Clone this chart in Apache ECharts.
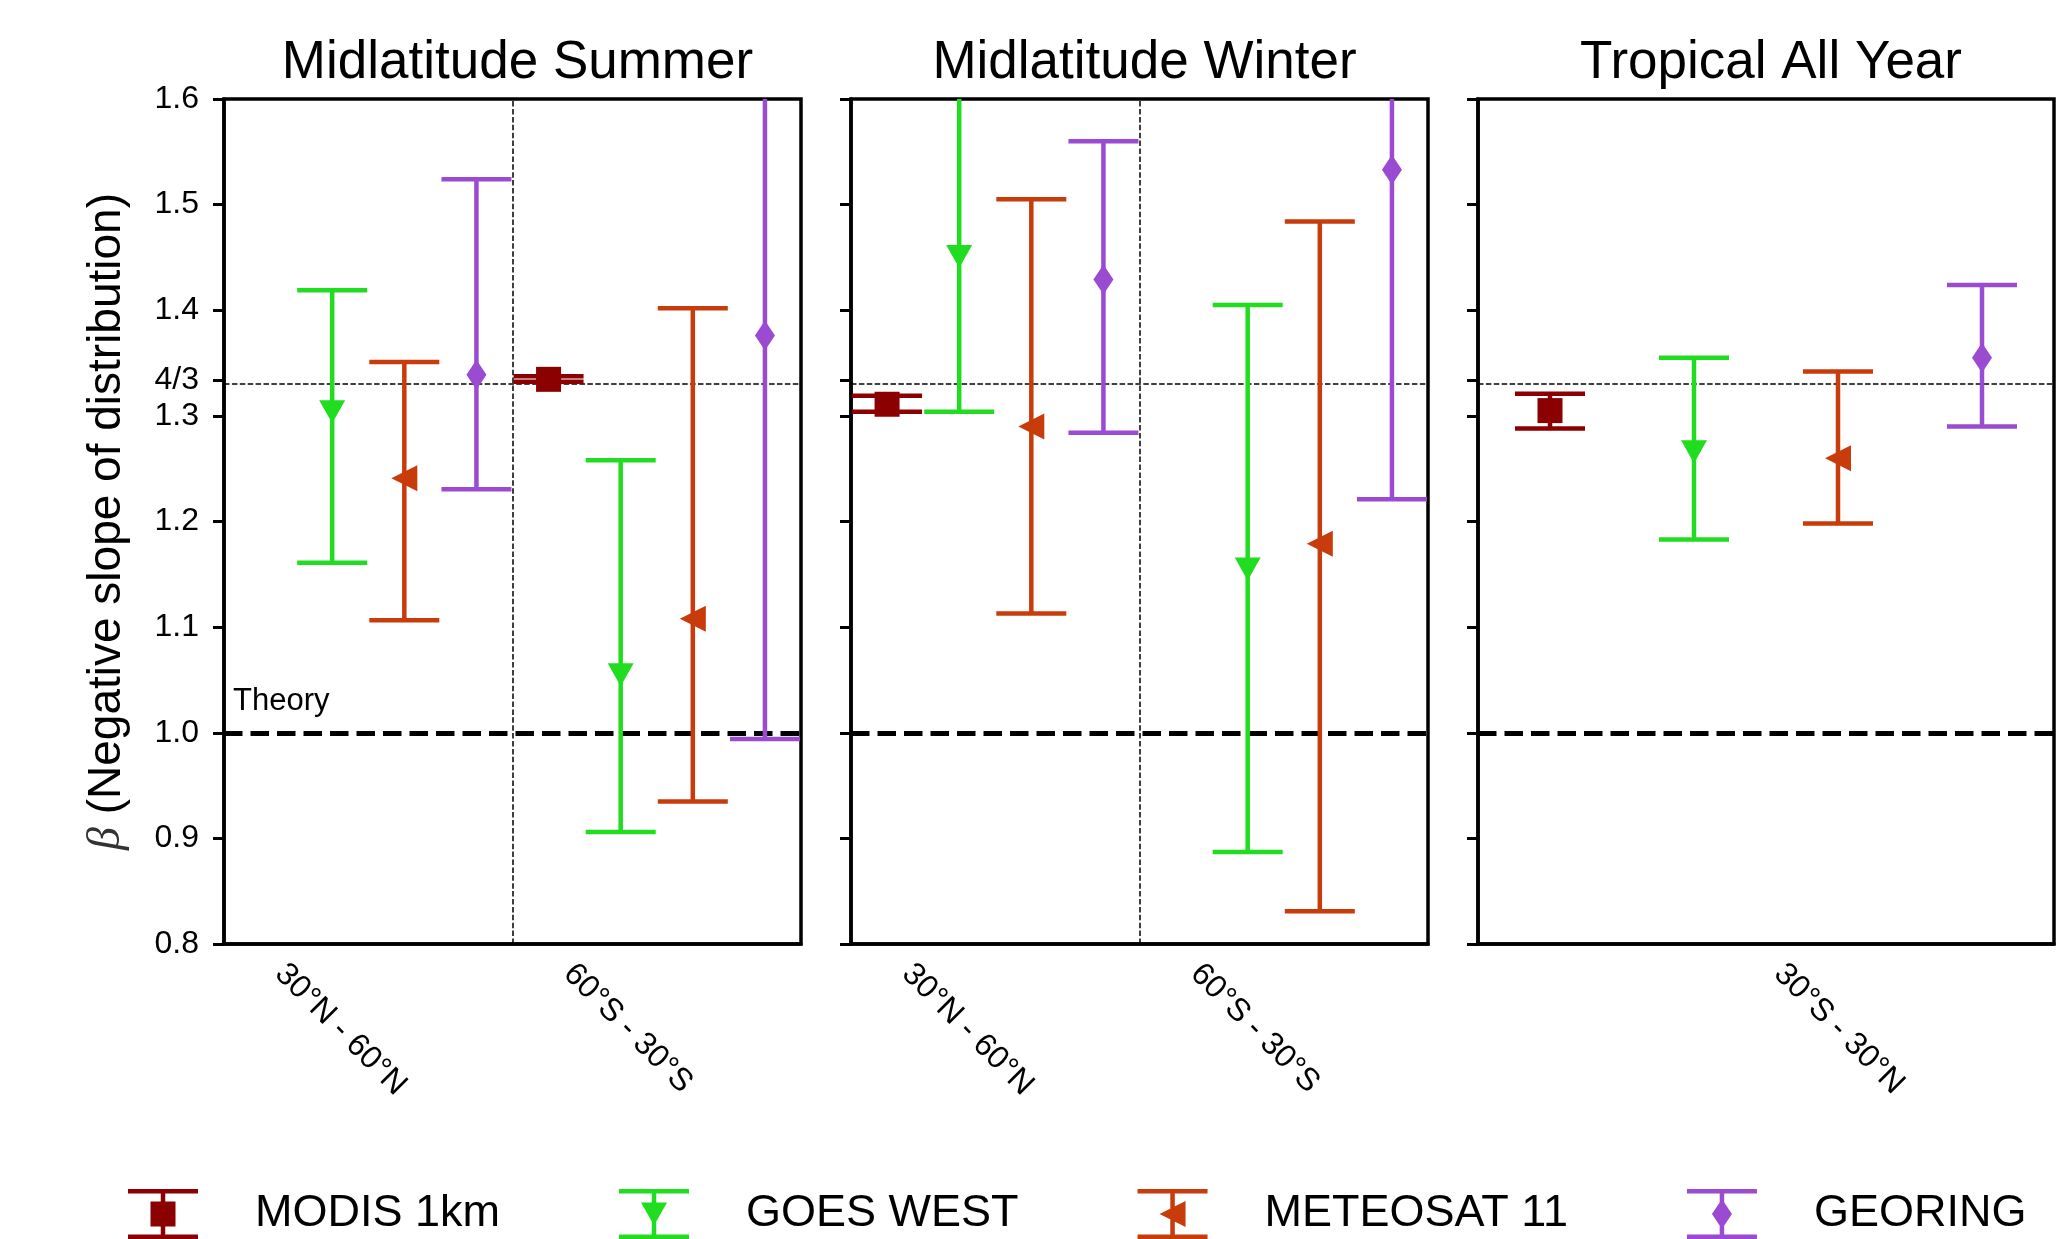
<!DOCTYPE html>
<html><head><meta charset="utf-8">
<script src="https://cdn.jsdelivr.net/npm/echarts@6/dist/echarts.min.js"></script>
<style>html,body{margin:0;padding:0;background:#fff}#c{width:2065px;height:1239px}</style>
</head><body><div id="c"></div>
<script>
// ---------------- DATA ----------------
const panelTitles = ['Midlatitude Summer', 'Midlatitude Winter', 'Tropical All Year'];
const regionLabels = [['30°N - 60°N', '60°S - 30°S'], ['30°N - 60°N', '60°S - 30°S'], ['30°S - 30°N']];
const sources = ['MODIS 1km', 'GOES WEST', 'METEOSAT 11', 'GEORING'];
// groups: [Summer 30N-60N, Summer 60S-30S, Winter 30N-60N, Winter 60S-30S, Tropical 30S-30N]
const modisMean = [null, 1.3346, 1.311, null, 1.305];
const modisLo   = [null, 1.3322, 1.304, null, 1.288];
const modisHi   = [null, 1.3376, 1.319, null, 1.321];
const goesMean  = [1.304, 1.055, 1.451, 1.155, 1.266];
const goesLo    = [1.161, 0.906, 1.304, 0.887, 1.183];
const goesHi    = [1.419, 1.258, 1.650, 1.405, 1.355];
const meteoMean = [1.241, 1.108, 1.290, 1.179, 1.260];
const meteoLo   = [1.1065, 0.935, 1.113, 0.831, 1.198];
const meteoHi   = [1.351, 1.402, 1.505, 1.484, 1.342];
const georMean  = [1.339, 1.376, 1.429, 1.533, 1.355];
const georLo    = [1.2305, 0.994, 1.284, 1.221, 1.290];
const georHi    = [1.524, 1.750, 1.560, 1.850, 1.424];
const yTicks = [0.8, 0.9, 1.0, 1.1, 1.2, 1.3, 4 / 3, 1.4, 1.5, 1.6];
const refKolmogorov = 4 / 3;
const refTheory = 1.0;
const theoryLabel = 'Theory';
const yAxisTitle = '{b|β} (Negative slope of distribution)';

// ---------------- STYLE / LAYOUT ----------------
const FONT = 'Liberation Sans, Arial, sans-serif';
const colors = ['#8B0000', '#20DD20', '#C83C0C', '#9B4BD2'];
const shapes = ['square', 'tridown', 'trileft', 'diamond'];
const panelGroups = [[0, 1], [2, 3], [4]];
const gridLeft = [224, 851, 1478];
const gridWidth = [577, 577, 576];
const gridTop = 99, gridHeight = 845;
const labelPos = [[0.776, 4.776], [0.776, 4.776], [2.09]];
const LW = 4.5, CAP = 35;

const sourceData = [
  [modisMean, modisLo, modisHi],
  [goesMean, goesLo, goesHi],
  [meteoMean, meteoLo, meteoHi],
  [georMean, georLo, georHi]
];

function makeRender(shape, color) {
  return function (params, api) {
    const x = api.value(0), m = api.value(1), lo = api.value(2), hi = api.value(3);
    const cs = params.coordSys;
    const top = cs.y, bot = cs.y + cs.height;
    const pm = api.coord([x, m]);
    const yl = api.coord([x, lo])[1], yh = api.coord([x, hi])[1];
    const cx = pm[0], cy = pm[1];
    const clamp = v => Math.max(top, Math.min(bot, v));
    const ls = { stroke: color, lineWidth: LW, fill: null, lineCap: 'butt' };
    const ch = [{ type: 'line', shape: { x1: cx, y1: clamp(yl), x2: cx, y2: clamp(yh) }, style: ls }];
    [yl, yh].forEach(y => {
      if (y >= top - 0.5 && y <= bot + 0.5) ch.push({ type: 'line', shape: { x1: cx - CAP, y1: y, x2: cx + CAP, y2: y }, style: ls });
    });
    const fs = { fill: color, stroke: null };
    if (shape === 'square') ch.push({ type: 'rect', shape: { x: cx - 12.5, y: cy - 12.5, width: 25, height: 25 }, style: fs });
    else if (shape === 'tridown') ch.push({ type: 'polygon', shape: { points: [[cx - 13, cy - 11.5], [cx + 13, cy - 11.5], [cx, cy + 11.5]] }, style: fs });
    else if (shape === 'trileft') ch.push({ type: 'polygon', shape: { points: [[cx - 13, cy], [cx + 13, cy - 13], [cx + 13, cy + 13]] }, style: fs });
    else ch.push({ type: 'polygon', shape: { points: [[cx, cy - 15], [cx + 10, cy], [cx, cy + 15], [cx - 10, cy]] }, style: fs });
    return { type: 'group', children: ch };
  };
}

const capsPath = 'M0 0 H70 V4.5 H0 Z M0 45.5 H70 V50 H0 Z M32.75 0 H37.25 V50 H32.75 Z ';
const icons = [
  'path://' + capsPath + 'M22.5 12.5 H47.5 V37.5 H22.5 Z',
  'path://' + capsPath + 'M22 13.5 H48 L35 36.5 Z',
  'path://' + capsPath + 'M22 25 L48 12 V38 Z',
  'path://' + capsPath + 'M35 10 L45 25 L35 40 L25 25 Z'
];

const grids = [], xAxes = [], yAxes = [], titles = [], series = [];
for (let i = 0; i < 3; i++) {
  grids.push({ left: gridLeft[i], top: gridTop, width: gridWidth[i], height: gridHeight,
    show: true, borderColor: '#000', borderWidth: 3.5, backgroundColor: 'transparent', outerBoundsMode: 'none' });
  titles.push({ text: panelTitles[i], left: gridLeft[i] + gridWidth[i] / 2, top: 32, textAlign: 'center',
    textStyle: { fontSize: 53, fontWeight: 'normal', fontFamily: FONT, color: '#000' } });
  const nSlots = panelGroups[i].length * 4;
  xAxes.push({ type: 'value', gridIndex: i, min: 0, max: nSlots,
    axisLine: { show: true, onZero: false, lineStyle: { color: '#000', width: 3.5 } },
    axisTick: { show: false }, splitLine: { show: false },
    axisLabel: { show: true, customValues: labelPos[i], rotate: -45, margin: 25, fontSize: 32,
      fontFamily: FONT, color: '#000',
      formatter: v => { const k = labelPos[i].findIndex(p => Math.abs(p - v) < 1e-6); return k >= 0 ? regionLabels[i][k] : ''; } } });
  yAxes.push({ type: 'value', gridIndex: i, min: 0.8, max: 1.6,
    axisLine: { show: true, onZero: false, lineStyle: { color: '#000', width: 3.5 } },
    axisTick: { show: true, customValues: yTicks, length: 11, lineStyle: { color: '#000', width: 3 } },
    splitLine: { show: false },
    axisLabel: { show: i === 0, customValues: yTicks, margin: 25, fontSize: 32, fontFamily: FONT, color: '#000',
      formatter: v => Math.abs(v - 4 / 3) < 1e-6 ? '4/3' : v.toFixed(1) },
    name: i === 0 ? yAxisTitle : '', nameLocation: 'middle', nameGap: 94, nameRotate: 90,
    nameTextStyle: { fontSize: 46, fontFamily: FONT, color: '#000',
      rich: { b: { fontSize: 46, fontStyle: 'italic', fontFamily: 'Liberation Serif, serif', color: '#333' } } } });
  // reference lines
  const ml = [
    { yAxis: refKolmogorov, lineStyle: { type: [5.5, 2.4], width: 1.5, color: '#000' } },
    { yAxis: refTheory, lineStyle: { type: [18.5, 8], width: 5, color: '#000' } }
  ];
  if (panelGroups[i].length > 1) ml.push({ xAxis: 4, lineStyle: { type: [5.5, 2.4], width: 1.5, color: '#000' } });
  series.push({ type: 'line', xAxisIndex: i, yAxisIndex: i, data: [], silent: true, z: 1,
    markLine: { silent: true, symbol: ['none', 'none'], animation: false, z: 1, label: { show: false }, emphasis: { disabled: true }, data: ml } });
  // error bars
  for (let s = 0; s < sources.length; s++) {
    const [mean, lo, hi] = sourceData[s];
    const data = [];
    panelGroups[i].forEach((g, gi) => {
      if (mean[g] != null) data.push([gi * 4 + s + 0.5, mean[g], lo[g], hi[g]]);
    });
    series.push({ type: 'custom', name: sources[s], xAxisIndex: i, yAxisIndex: i, z: 3, silent: true,
      itemStyle: { color: colors[s] }, encode: { x: 0, y: 1 },
      renderItem: makeRender(shapes[s], colors[s]), data });
  }
}

const chart = echarts.init(document.getElementById('c'), null, { renderer: 'canvas' });
chart.setOption({
  animation: false,
  backgroundColor: '#fff',
  title: titles,
  grid: grids, xAxis: xAxes, yAxis: yAxes,
  legend: { data: sources.map((n, k) => ({ name: n, icon: icons[k] })), left: 123, top: 1184,
    itemWidth: 70, itemHeight: 50, itemGap: 119, selectedMode: false,
    itemStyle: { borderWidth: 0 },
    textStyle: { fontSize: 45, fontFamily: FONT, color: '#000', padding: [0, 0, 0, 52] } },
  series
});
const pt = chart.convertToPixel({ gridIndex: 0 }, [0, refTheory]);
chart.setOption({ graphic: [{ type: 'text', x: pt[0] + 9, y: pt[1] - 31, silent: true,
  style: { text: theoryLabel, font: '31px ' + FONT, fill: '#000', align: 'left', verticalAlign: 'middle' } }] });
</script></body></html>
